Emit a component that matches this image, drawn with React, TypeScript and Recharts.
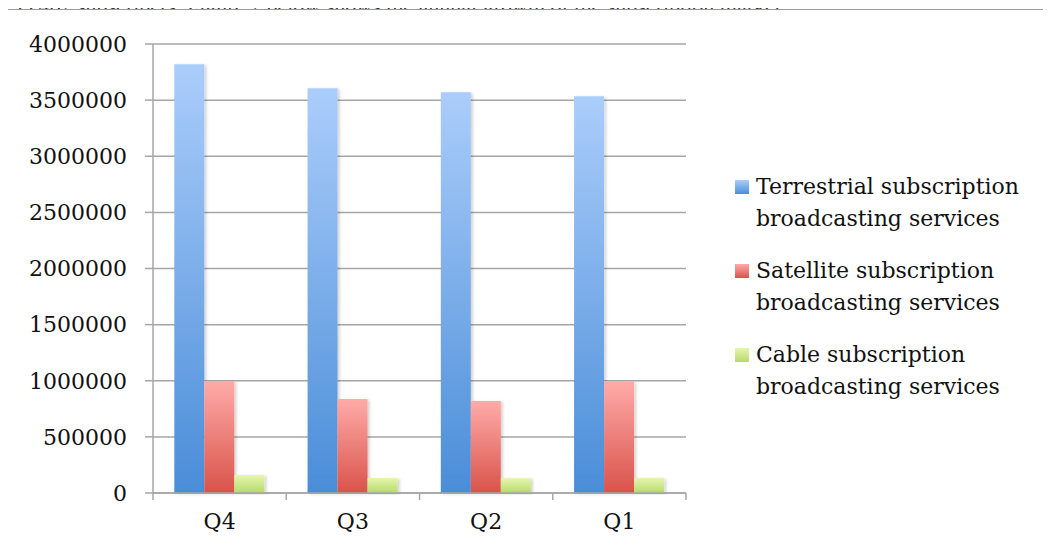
import { BarChart, Bar, XAxis, YAxis, CartesianGrid } from "recharts";

const quarters = ["Q4", "Q3", "Q2", "Q1"];
const terrestrial = [3820000, 3605000, 3570000, 3535000];
const satellite = [998000, 838000, 820000, 995000];
const cable = [160000, 134000, 132000, 133000];
const yTicks = [0, 500000, 1000000, 1500000, 2000000, 2500000, 3000000, 3500000, 4000000];

const seriesInfo = [
  { key: "terrestrial", name: "Terrestrial subscription broadcasting services", top: "#abcdfb", bottom: "#4a8dd8" },
  { key: "satellite", name: "Satellite subscription broadcasting services", top: "#ffaba9", bottom: "#d9534a" },
  { key: "cable", name: "Cable subscription broadcasting services", top: "#e6f6ad", bottom: "#b6da6c" },
];

const data = quarters.map((q, i) => ({
  quarter: q,
  terrestrial: terrestrial[i],
  satellite: satellite[i],
  cable: cable[i],
}));

const serif = "'DejaVu Serif', serif";
const grid = "#a6a6a6";

function XTick(props: any) {
  const { x, y, payload, index } = props;
  const half = payload && payload.offset ? payload.offset : 66.6;
  return (
    <g>
      <line x1={x - half} y1={y - 8} x2={x - half} y2={y - 1} stroke={grid} strokeWidth={1.5} />
      {index === quarters.length - 1 && (
        <line x1={x + half} y1={y - 8} x2={x + half} y2={y - 1} stroke={grid} strokeWidth={1.5} />
      )}
      <text x={x} y={y + 28} textAnchor="middle" fontFamily={serif} fontSize={22} fill="#111">
        {payload.value}
      </text>
    </g>
  );
}

function LegendBox() {
  return (
    <div style={{ fontFamily: serif, fontSize: 22, color: "#111" }}>
      {seriesInfo.map((s) => {
        const words = s.name.split(" ");
        return (
          <div key={s.key} style={{ display: "flex", alignItems: "flex-start", marginBottom: 20 }}>
            <div
              style={{
                width: 14,
                height: 14,
                marginTop: 9,
                marginRight: 7,
                flexShrink: 0,
                background: `linear-gradient(${s.top}, ${s.bottom})`,
              }}
            />
            <div style={{ lineHeight: "32px", whiteSpace: "nowrap" }}>
              <div>{words.slice(0, 2).join(" ")}</div>
              <div>{words.slice(2).join(" ")}</div>
            </div>
          </div>
        );
      })}
    </div>
  );
}

export default function App() {
  return (
    <div style={{ position: "relative", margin: -8, width: 1051, height: 554, overflow: "hidden", background: "#fff" }}>
      <div
        style={{
          position: "absolute",
          left: 0,
          top: -6,
          fontFamily: "'Liberation Serif', serif",
          fontSize: 22,
          lineHeight: "24px",
          whiteSpace: "nowrap",
          color: "#333",
        }}
      >
        153,462 subscribers. Figure 2 below shows the annual growth of the subscription market.
      </div>
      <div
        style={{
          position: "absolute",
          left: 5,
          top: 9,
          width: 1100,
          height: 600,
          borderLeft: "1.5px solid #9a9a9a",
          borderTop: "1.5px solid #9a9a9a",
          background: "#fff",
        }}
      />
      <div style={{ position: "absolute", left: 0, top: 0 }}>
        <BarChart
          width={1051}
          height={554}
          data={data}
          margin={{ top: 44, right: 365, bottom: 21, left: 0 }}
          barCategoryGap="16%"
          barGap={0}
        >
          <defs>
            {seriesInfo.map((s) => (
              <linearGradient key={s.key} id={`grad-${s.key}`} x1="0" y1="0" x2="0" y2="1">
                <stop offset="0%" stopColor={s.top} />
                <stop offset="100%" stopColor={s.bottom} />
              </linearGradient>
            ))}
            <filter id="shadow" x="-20%" y="-5%" width="150%" height="115%">
              <feDropShadow dx="2" dy="1" stdDeviation="1.5" floodColor="#000" floodOpacity="0.18" />
            </filter>
          </defs>
          <CartesianGrid vertical={false} stroke={grid} strokeWidth={1.5} />
          <XAxis
            dataKey="quarter"
            axisLine={{ stroke: grid, strokeWidth: 1.5 }}
            tickLine={false}
            tick={<XTick />}
            height={40}
            interval={0}
          />
          <YAxis
            domain={[0, 4000000]}
            ticks={yTicks}
            width={153}
            axisLine={{ stroke: grid, strokeWidth: 1.5 }}
            tickLine={{ stroke: grid, strokeWidth: 1.5 }}
            tickSize={8}
            tickMargin={18}
            tick={{ fontFamily: serif, fontSize: 22, fill: "#111" }}
            interval={0}
          />
          {seriesInfo.map((s) => (
            <Bar
              key={s.key}
              dataKey={s.key}
              name={s.name}
              fill={`url(#grad-${s.key})`}
              filter="url(#shadow)"
              isAnimationActive={false}
            />
          ))}
        </BarChart>
      </div>
      <div style={{ position: "absolute", left: 735, top: 171 }}>
        <LegendBox />
      </div>
    </div>
  );
}
